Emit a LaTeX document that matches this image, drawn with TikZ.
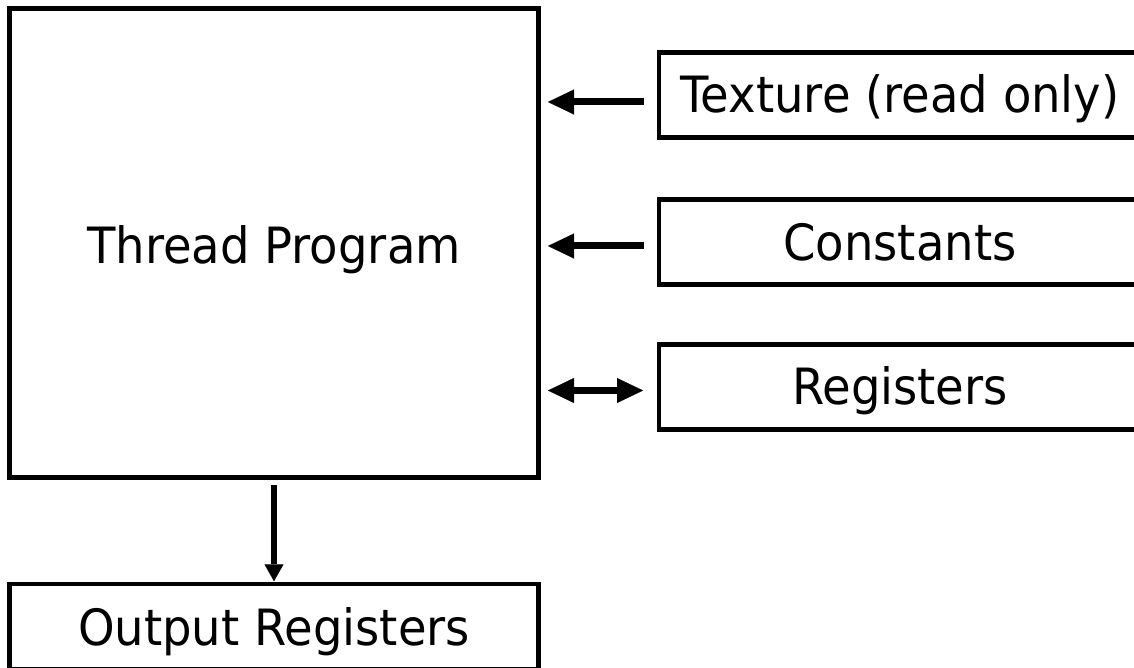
\documentclass[tikz,border=0pt]{standalone}
\usepackage{fontspec}
\setmainfont[FakeStretch=0.93]{DejaVu Sans}
\usetikzlibrary{arrows.meta}
\begin{document}
\begin{tikzpicture}[x=1pt,y=-1pt,
  blk/.style={draw=black, line width=4.5pt, inner sep=0pt,
    font=\fontsize{50}{58}\selectfont, text height=37pt, text depth=1pt},
  wideblk/.style={blk, minimum width=529pt},
  sideblk/.style={blk, minimum width=482pt, minimum height=85pt},
  bigtip/.tip={Triangle[length=26pt,width=25pt,line width=0.1pt]},
  feed/.style={line width=7pt, -bigtip},
  both/.style={line width=7pt, bigtip-bigtip},
  down/.style={line width=5.5pt, -{Triangle[length=17pt,width=19pt,line width=0.1pt]}}]
  \clip (0,0) rectangle (1134,668);
  \useasboundingbox (0,0) rectangle (1134,668);

  % main program block and the output block below it
  \node[wideblk, minimum height=469pt, text height=40pt, text depth=0pt]
    (prog) at (274,243) {Thread Program};
  \node[wideblk, minimum height=85pt, text depth=0pt] (out) at (274,626.5) {Output Registers};

  % memory spaces on the right
  \node[sideblk, text depth=3pt] (tex) at (900,95.25) {Texture (read only)};
  \node[sideblk] (con) at (900,242) {Constants};
  \node[sideblk] (reg) at (900,386.75) {Registers};

  % access paths
  \coordinate (t1) at ([yshift=-6.75pt]tex.west);
  \coordinate (c1) at ([yshift=-4pt]con.west);
  \coordinate (r1) at ([yshift=-3.75pt]reg.west);
  \draw[feed, shorten <=12.75pt, shorten >=7.25pt] (t1) -- (t1 -| prog.east);
  \draw[feed, shorten <=12.75pt, shorten >=7.25pt] (c1) -- (c1 -| prog.east);
  \draw[both, shorten <=13.75pt, shorten >=7.25pt] (r1) -- (r1 -| prog.east);
  \draw[down, shorten <=5.25pt, shorten >=0.5pt] (prog.south) -- (out.north);
\end{tikzpicture}
\end{document}
